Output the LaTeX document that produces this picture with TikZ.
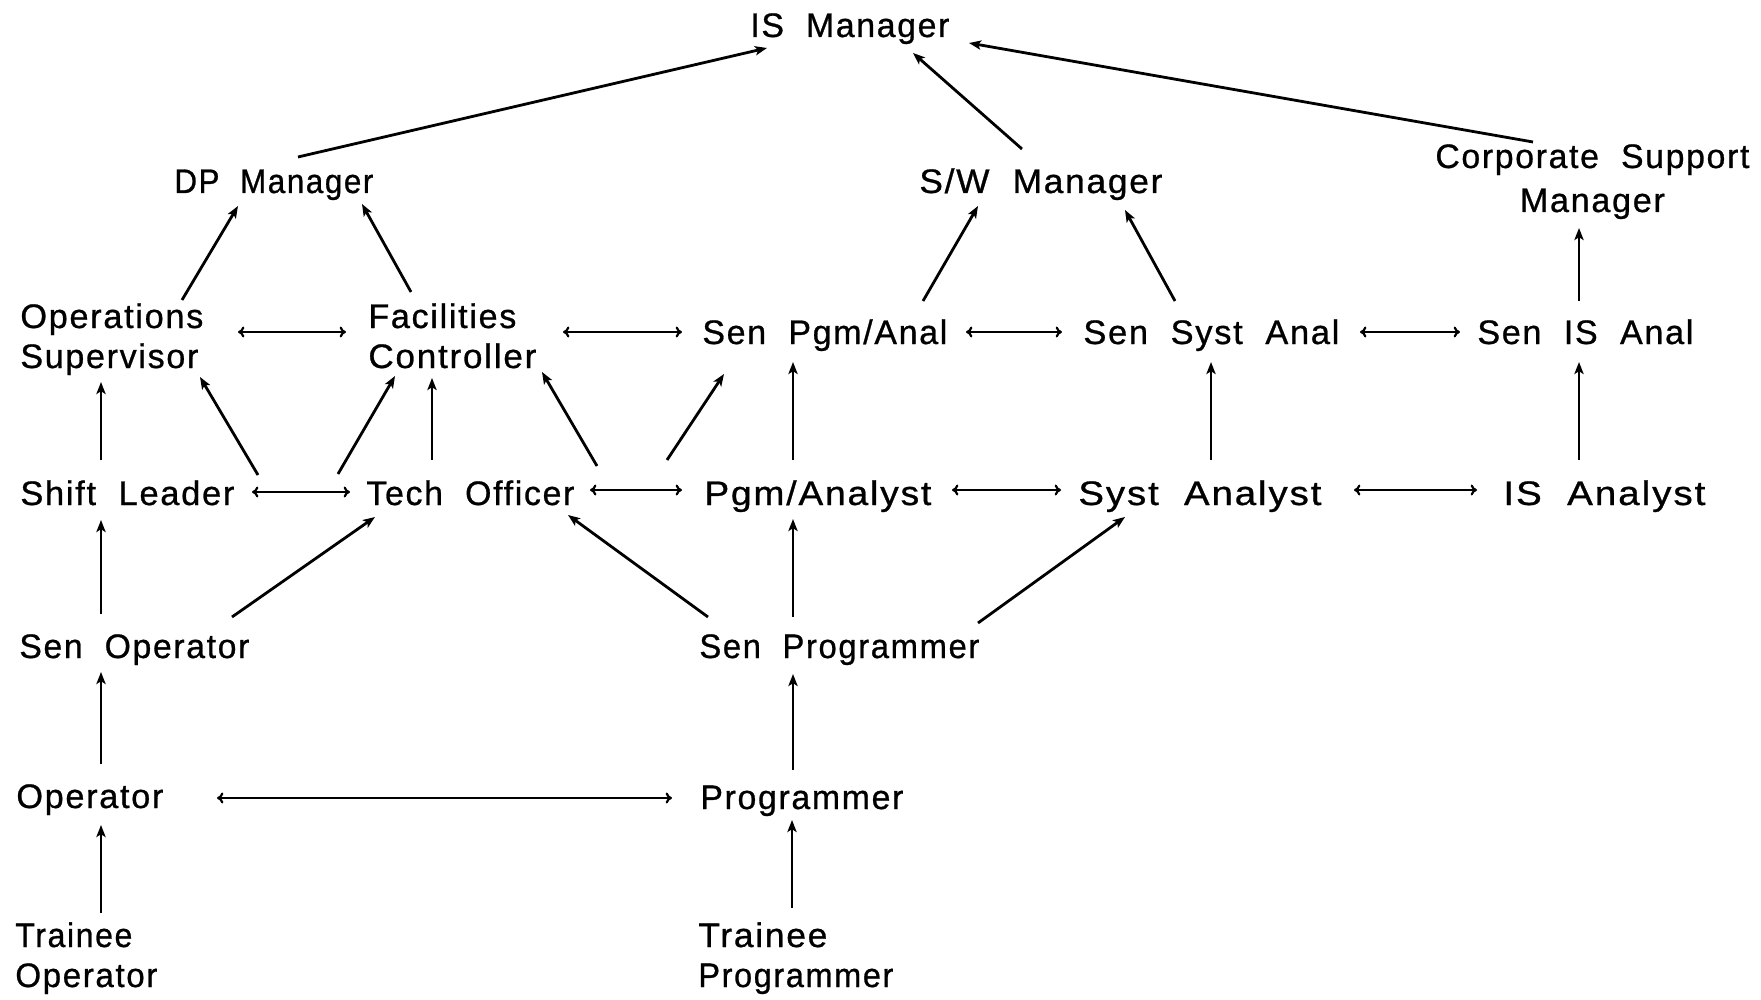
\documentclass[tikz,border=0pt]{standalone}
\usepackage{fontspec}
\usepackage{graphicx}
\setmainfont{Liberation Sans}[LetterSpace=5,WordSpace=2,FakeBold=0.8]
\usetikzlibrary{calc,arrows.meta}
\newlength{\pxu}
\setlength{\pxu}{0.5pt}
\newcommand{\fw}[2]{\resizebox{#1\pxu}{\height}{#2}}
\tikzset{
  lbl/.style={inner sep=0pt, anchor=base west, align=left,
    font=\fontsize{17pt}{20pt}\selectfont},
  up/.style={line width=1.4pt, -{Stealth[length=6pt,width=4.6pt,inset=1.4pt]}},
  both/.style={line width=1.1pt, {To[length=3.2pt,width=5.5pt]}-{To[length=3.2pt,width=5.5pt]}},
}
\begin{document}
\begin{tikzpicture}[x=0.5pt,y=-0.5pt]
\useasboundingbox[fill=white] (0,0) rectangle (1761,1000);
% nodes (base west = baseline of the last line)
\node[lbl] (is) at (750,37) {\fw{199}{IS Manager}};
\node[lbl] (dp) at (174,193) {\fw{199}{DP Manager}};
\node[lbl] (sw) at (919,193) {\fw{243}{S/W Manager}};
\node[lbl,align=center,font=\fontsize{17pt}{22pt}\selectfont] (corp) at (1435,212) {\fw{314}{Corporate Support}\\\fw{145}{Manager}};
\node[lbl] (ops) at (20,368) {\fw{183}{Operations}\\\fw{178}{Supervisor}};
\node[lbl] (fac) at (368,368) {\fw{148}{Facilities}\\\fw{168}{Controller}};
\node[lbl] (spa) at (702,344) {\fw{245}{Sen Pgm/Anal}};
\node[lbl] (ssa) at (1083,344) {\fw{256}{Sen Syst Anal}};
\node[lbl] (sisa) at (1477,344) {\fw{216}{Sen IS Anal}};
\node[lbl] (shift) at (20,505) {\fw{214}{Shift Leader}};
\node[lbl] (tech) at (366,505) {\fw{208}{Tech Officer}};
\node[lbl] (pgma) at (704,505) {\fw{227}{Pgm/Analyst}};
\node[lbl] (systa) at (1078,505) {\fw{243}{Syst Analyst}};
\node[lbl] (isa) at (1503,505) {\fw{202}{IS Analyst}};
\node[lbl] (senop) at (19,658) {\fw{230}{Sen Operator}};
\node[lbl] (senprog) at (699,658) {\fw{280}{Sen Programmer}};
\node[lbl] (op) at (16,808) {\fw{147}{Operator}};
\node[lbl] (prog) at (700,809) {\fw{203}{Programmer}};
\node[lbl] (trop) at (15,987) {\fw{117}{Trainee}\\\fw{142}{Operator}};
\node[lbl] (trprog) at (698,987) {\fw{129}{Trainee}\\\fw{195}{Programmer}};
% connectors
\draw[up] ($(dp.base west)+(124,-36)$) -- ($(is.base west)+(17,11)$);
\draw[up] ($(sw.base west)+(103,-44)$) -- ($(is.base west)+(163,16)$);
\draw[up] ($(corp.base west)+(98,-70)$) -- ($(is.base west)+(219,6)$);
\draw[up] ($(ops.base west)+(162,-68)$) -- ($(dp.base west)+(64,13)$);
\draw[up] ($(fac.base west)+(43,-76)$) -- ($(dp.base west)+(188,11)$);
\draw[up] ($(spa.base west)+(221,-43)$) -- ($(sw.base west)+(59,13)$);
\draw[up] ($(ssa.base west)+(92,-43)$) -- ($(sw.base west)+(206,17)$);
\draw[up] ($(sisa.base west)+(102,-43)$) -- ($(corp.base west)+(144,16)$);
\draw[both] ($(ops.base west)+(218,-36)$) -- ($(fac.base west)+(-22,-36)$);
\draw[both] ($(fac.base west)+(195,-36)$) -- ($(spa.base west)+(-20,-12)$);
\draw[both] ($(spa.base west)+(264,-12)$) -- ($(ssa.base west)+(-21,-12)$);
\draw[both] ($(ssa.base west)+(277,-12)$) -- ($(sisa.base west)+(-17,-12)$);
\draw[up] ($(shift.base west)+(81,-45)$) -- ($(ops.base west)+(81,14)$);
\draw[up] ($(shift.base west)+(238,-30)$) -- ($(ops.base west)+(180,9)$);
\draw[up] ($(tech.base west)+(-28,-31)$) -- ($(fac.base west)+(27,8)$);
\draw[up] ($(tech.base west)+(66,-45)$) -- ($(fac.base west)+(64,10)$);
\draw[up] ($(pgma.base west)+(-107,-39)$) -- ($(fac.base west)+(174,4)$);
\draw[up] ($(pgma.base west)+(-37,-45)$) -- ($(spa.base west)+(22,30)$);
\draw[up] ($(pgma.base west)+(89,-45)$) -- ($(spa.base west)+(91,18)$);
\draw[up] ($(systa.base west)+(133,-45)$) -- ($(ssa.base west)+(128,18)$);
\draw[up] ($(isa.base west)+(76,-45)$) -- ($(sisa.base west)+(102,18)$);
\draw[both] ($(shift.base west)+(232,-13)$) -- ($(tech.base west)+(-16,-13)$);
\draw[both] ($(tech.base west)+(224,-15)$) -- ($(pgma.base west)+(-22,-15)$);
\draw[both] ($(pgma.base west)+(248,-15)$) -- ($(systa.base west)+(-17,-15)$);
\draw[both] ($(systa.base west)+(276,-15)$) -- ($(isa.base west)+(-26,-15)$);
\draw[up] ($(senop.base west)+(82,-44)$) -- ($(shift.base west)+(81,15)$);
\draw[up] ($(senop.base west)+(213,-41)$) -- ($(tech.base west)+(9,12)$);
\draw[up] ($(senprog.base west)+(9,-41)$) -- ($(tech.base west)+(202,10)$);
\draw[up] ($(senprog.base west)+(94,-41)$) -- ($(pgma.base west)+(89,14)$);
\draw[up] ($(senprog.base west)+(279,-35)$) -- ($(systa.base west)+(47,12)$);
\draw[up] ($(op.base west)+(85,-44)$) -- ($(senop.base west)+(82,14)$);
\draw[both] ($(op.base west)+(201,-10)$) -- ($(prog.base west)+(-28,-11)$);
\draw[up] ($(prog.base west)+(93,-39)$) -- ($(senprog.base west)+(94,16)$);
\draw[up] ($(trop.base west)+(86,-74)$) -- ($(op.base west)+(85,17)$);
\draw[up] ($(trprog.base west)+(94,-79)$) -- ($(prog.base west)+(92,11)$);
\end{tikzpicture}
\end{document}
